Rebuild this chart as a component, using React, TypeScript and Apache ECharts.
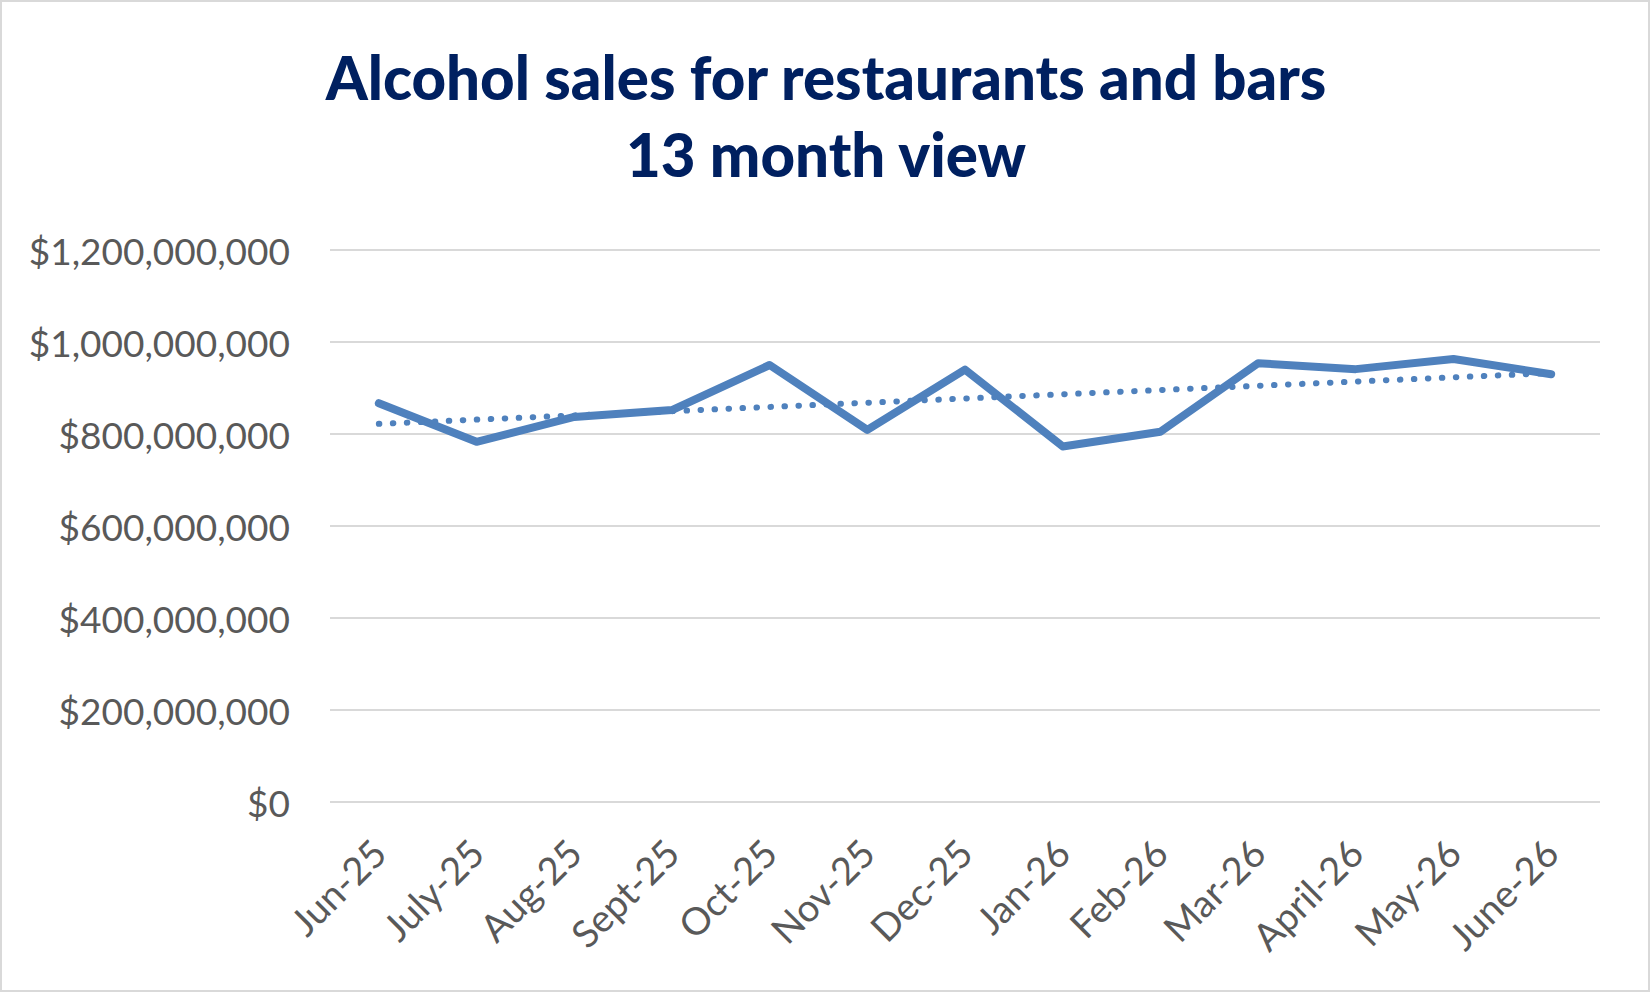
import React, { useEffect, useRef } from "react";
import * as echarts from "echarts";

const categories = [
  "Jun-25", "July-25", "Aug-25", "Sept-25", "Oct-25", "Nov-25", "Dec-25",
  "Jan-26", "Feb-26", "Mar-26", "April-26", "May-26", "June-26",
];

const sales = [
  867000000, 783000000, 837000000, 852000000, 950000000, 809000000, 940000000,
  773000000, 805000000, 954000000, 941000000, 963000000, 930000000,
];

const yTicks = { min: 0, max: 1200000000, interval: 200000000 };

// Linear trendline (least squares) derived from the sales series
function linearTrend(values: number[]): number[] {
  const n = values.length;
  const mx = (n - 1) / 2;
  const my = values.reduce((a, b) => a + b, 0) / n;
  let num = 0;
  let den = 0;
  values.forEach((v, i) => {
    num += (i - mx) * (v - my);
    den += (i - mx) * (i - mx);
  });
  const slope = num / den;
  return values.map((_, i) => my + slope * (i - mx));
}

const FONT = "Lato, 'Open Sans', sans-serif";
const BLUE = "#4f81bd";

export default function App() {
  const ref = useRef<HTMLDivElement>(null);

  useEffect(() => {
    document.body.style.margin = "0";
    if (!ref.current) return;
    const chart = echarts.init(ref.current, undefined, { renderer: "svg" });
    chart.setOption({
      animation: false,
      backgroundColor: "#ffffff",
      textStyle: { fontFamily: FONT },
      graphic: [
        {
          type: "rect",
          shape: { x: 1, y: 1, width: 1648, height: 990 },
          style: { fill: "none", stroke: "#d9d9d9", lineWidth: 2 },
          silent: true,
        },
      ],
      title: {
        text: "Alcohol sales for restaurants and bars\n13 month view",
        left: "center",
        top: 33,
        textStyle: {
          fontFamily: FONT,
          fontSize: 60,
          fontWeight: 900,
          color: "#002060",
          lineHeight: 77,
          align: "center",
        },
      },
      grid: { left: 330, right: 52, top: 250, bottom: 191, containLabel: false },
      xAxis: {
        type: "category",
        data: categories,
        boundaryGap: true,
        axisLine: { show: false },
        axisTick: { show: false },
        axisLabel: {
          rotate: 45,
          interval: 0,
          margin: 44,
          fontSize: 38,
          fontFamily: FONT,
          color: "#595959",
        },
      },
      yAxis: {
        type: "value",
        min: yTicks.min,
        max: yTicks.max,
        interval: yTicks.interval,
        axisLine: { show: false },
        axisTick: { show: false },
        splitLine: { lineStyle: { color: "#d9d9d9", width: 2 } },
        axisLabel: {
          margin: 40,
          fontSize: 37,
          fontFamily: FONT,
          color: "#595959",
          formatter: (v: number) => "$" + v.toLocaleString("en-US"),
        },
      },
      series: [
        {
          name: "Sales",
          type: "line",
          data: sales,
          symbol: "none",
          lineStyle: { color: BLUE, width: 8, cap: "round", join: "round" },
          z: 2,
        },
        {
          name: "Trend",
          type: "line",
          data: linearTrend(sales),
          symbol: "none",
          lineStyle: {
            color: BLUE,
            width: 6,
            type: [0.5, 13.5],
            cap: "round",
          },
          z: 3,
        },
      ],
    });
    return () => chart.dispose();
  }, []);

  return <div ref={ref} style={{ width: 1652, height: 993 }} />;
}
